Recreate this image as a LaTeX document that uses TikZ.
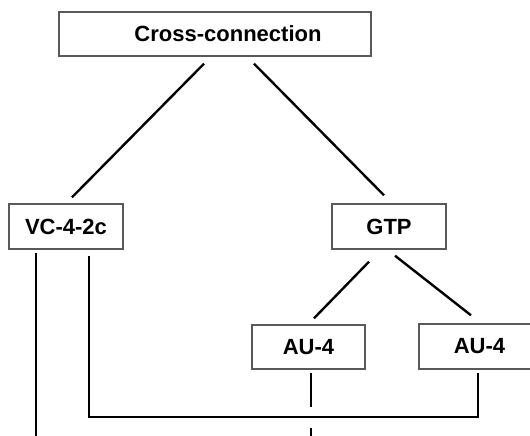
\documentclass[tikz,border=0pt]{standalone}
\usepackage{fontspec}
\setmainfont{Liberation Sans}
\usetikzlibrary{calc}
\begin{document}
\begin{tikzpicture}[x=1pt,y=-1pt,
  blk/.style={draw=black!65,line width=1.4pt,rectangle,inner sep=0pt,
    font=\fontsize{22}{26}\selectfont\bfseries},
  wire/.style={draw=black,line width=2.4pt}]
\useasboundingbox (0,0) rectangle (530,436);
\clip (0,0) rectangle (530,436);
% blocks
\node[blk,minimum width=312pt,minimum height=44pt] (cc) at (215,34) {\hspace*{26pt}Cross-connection};
\node[blk,minimum width=114pt,minimum height=45pt] (vc) at (66,226.5) {VC-4-2c};
\node[blk,minimum width=114pt,minimum height=45pt] (gtp) at (389,226.5) {GTP};
\node[blk,minimum width=113pt,minimum height=44pt] (au1) at (308.5,347) {AU-4};
\node[blk,minimum width=121pt,minimum height=45pt] (au2) at (479.5,346.5) {AU-4};
% free ends and the bus level
\coordinate (bus) at (0,417);
\coordinate (bottom) at (0,445);
% tree links
\draw[wire] ($(cc.south)+(-11,7)$) -- ($(vc.north)+(6,-6)$);
\draw[wire] ($(cc.south)+(39,7)$) -- ($(gtp.north)+(-5,-8)$);
\draw[wire] ($(gtp.south)+(-20,12)$) -- ($(au1.north)+(5.5,-6)$);
\draw[wire] ($(gtp.south)+(6,6)$) -- ($(au2.north)+(-8.5,-8)$);
% VC-4-2c outputs
\coordinate (vcL) at ($(vc.south)+(-30,3)$);
\coordinate (vcR) at ($(vc.south)+(23,6)$);
\coordinate (au2S) at ($(au2.south)+(-1.5,3)$);
\draw[wire] (vcL) -- (vcL |- bottom);
\draw[wire] (vcR) -- (vcR |- bus) -- (au2S |- bus) -- (au2S);
% AU-4 output crossing under the bus
\coordinate (au1S) at ($(au1.south)+(2.5,3)$);
\draw[wire] (au1S) -- ($(au1S |- bus)+(0,-10)$);
\draw[wire] ($(au1S |- bus)+(0,11)$) -- (au1S |- bottom);
\end{tikzpicture}
\end{document}
